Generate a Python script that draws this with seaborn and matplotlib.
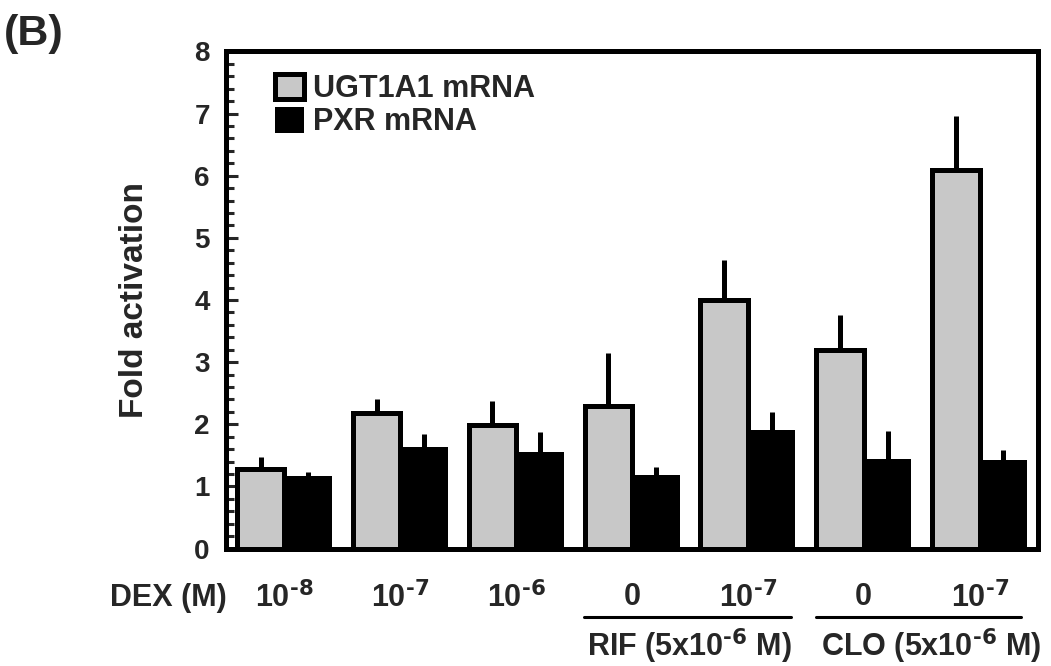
import numpy as np
import pandas as pd
import matplotlib
matplotlib.use("Agg")
import matplotlib.pyplot as plt
import seaborn as sns
from matplotlib.patches import Patch
from matplotlib.ticker import AutoMinorLocator, MultipleLocator

# values
conditions = ["DEX 1e-8", "DEX 1e-7", "DEX 1e-6", "RIF+DEX 0", "RIF+DEX 1e-7", "CLO+DEX 0", "CLO+DEX 1e-7"]
tick_labels = ["10$^{\\text{-8}}$", "10$^{\\text{-7}}$", "10$^{\\text{-6}}$", "0",
               "10$^{\\text{-7}}$", "0", "10$^{\\text{-7}}$"]
group_labels = ["RIF (5x10$^{\\text{-6}}$ M)", "CLO (5x10$^{\\text{-6}}$ M)"]
series = ["UGT1A1 mRNA", "PXR mRNA"]
ugt1a1_mean = [1.28, 2.18, 1.99, 2.30, 4.00, 3.19, 6.10]
ugt1a1_err = [0.20, 0.22, 0.39, 0.85, 0.65, 0.57, 0.86]
pxr_mean = [1.16, 1.63, 1.56, 1.18, 1.91, 1.44, 1.42]
pxr_err = [0.07, 0.21, 0.31, 0.13, 0.28, 0.45, 0.16]
colors = ["#c8c8c8", "#000000"]

df = pd.DataFrame({
    "condition": conditions * 2,
    "series": [series[0]] * len(conditions) + [series[1]] * len(conditions),
    "value": ugt1a1_mean + pxr_mean,
})

sns.set_style("ticks")
plt.rcParams["font.family"] = ["Liberation Sans", "DejaVu Sans"]
plt.rcParams["font.weight"] = "bold"
plt.rcParams["axes.labelweight"] = "bold"
plt.rcParams["mathtext.default"] = "regular"

fig = plt.figure(figsize=(10.51, 6.66), dpi=100)
ax = fig.add_axes([0.2155, 0.1764, 0.7717, 0.7463])

sns.barplot(data=df, x="condition", y="value", hue="series", order=conditions,
            hue_order=series, palette=colors, width=0.82, edgecolor="black",
            linewidth=3.6, errorbar=None, legend=False, ax=ax, saturation=1)

for bar in ax.containers[1]:
    bar.set_linewidth(0)

# upper error bars only
for cont, means, errs in zip(ax.containers, [ugt1a1_mean, pxr_mean], [ugt1a1_err, pxr_err]):
    for bar, m, e in zip(cont, means, errs):
        xc = bar.get_x() + bar.get_width() / 2
        ax.vlines(xc, m, m + e, color="black", linewidth=3.6, zorder=1)

ax.set_ylim(0, 8)
ax.set_xlim(-0.5, 6.5)
ax.yaxis.set_major_locator(MultipleLocator(1))
ax.yaxis.set_minor_locator(AutoMinorLocator(5))
ax.tick_params(axis="y", which="major", direction="in", length=8.3, width=2.2,
               labelsize=20, pad=12)
ax.tick_params(axis="y", which="minor", direction="in", length=5.4, width=2.2)
ax.tick_params(axis="x", length=0, labelsize=22, pad=24)
ax.set_xticks(range(len(conditions)))
ax.set_xticklabels(tick_labels)
for lab in ax.get_yticklabels() + ax.get_xticklabels():
    lab.set_fontweight("bold")

for side in ["left", "right", "top", "bottom"]:
    ax.spines[side].set_visible(True)
    ax.spines[side].set_linewidth(3.6)
    ax.spines[side].set_color("black")

ax.set_xlabel("")
ax.set_ylabel("Fold activation", fontsize=24, labelpad=32)

handles = [Patch(facecolor=colors[0], edgecolor="black", linewidth=3.6),
           Patch(facecolor=colors[1], edgecolor="black", linewidth=0)]
ax.legend(handles, series, loc="upper left", bbox_to_anchor=(275 / 1051, 1 - 74 / 666),
          bbox_transform=fig.transFigure, frameon=False,
          handlelength=0.95, handleheight=0.9, handletextpad=0.3, labelspacing=0.1,
          borderpad=0, borderaxespad=0, prop={"weight": "bold", "size": 22})

# group annotations below the axis
xt = ax.get_xaxis_transform()
for c, half, name, tx in [(3.48, 0.895, group_labels[0], 3.5),
                          (5.47, 0.885, group_labels[1], 5.58)]:
    ax.plot([c - half, c + half], [-0.138, -0.138], color="black", linewidth=2.2,
            transform=xt, clip_on=False)
    ax.text(tx, -0.197, name, transform=xt, ha="center", va="center",
            fontsize=22, fontweight="bold")

fig.text(227 / 1051, 1 - 598 / 666, "DEX (M)", ha="right", va="center",
         fontsize=22, fontweight="bold")
fig.text(4 / 1051, 1 - 34 / 666, "(B)", ha="left", va="center",
         fontsize=31, fontweight="bold")

fig.savefig("out.png", dpi=100)
